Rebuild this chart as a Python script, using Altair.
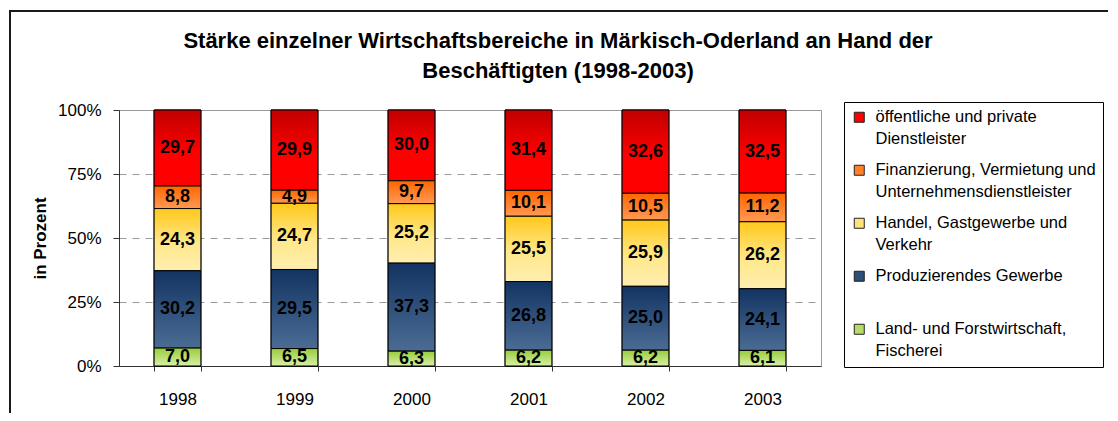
import altair as alt
import pandas as pd

years = ["1998", "1999", "2000", "2001", "2002", "2003"]
series = [
    "öffentliche und private|Dienstleister",
    "Finanzierung, Vermietung und|Unternehmensdienstleister",
    "Handel, Gastgewerbe und|Verkehr",
    "Produzierendes Gewerbe| ",
    "Land- und Forstwirtschaft,|Fischerei",
]
oeffentlich = [29.7, 29.9, 30.0, 31.4, 32.6, 32.5]
finanzierung = [8.8, 4.9, 9.7, 10.1, 10.5, 11.2]
handel = [24.3, 24.7, 25.2, 25.5, 25.9, 26.2]
produzierend = [30.2, 29.5, 37.3, 26.8, 25.0, 24.1]
land = [7.0, 6.5, 6.3, 6.2, 6.2, 6.1]
values = [oeffentlich, finanzierung, handel, produzierend, land]

legend_colors = ["#FF0000", "#FF7F2A", "#FFE27A", "#2E4E77", "#B5DC6A"]
gradients = [
    [("#C00000", 0.0), ("#FF0000", 0.55), ("#FF0000", 1.0)],
    [("#FF6600", 0.0), ("#FF9A55", 1.0)],
    [("#FFC81A", 0.0), ("#FFE88A", 0.55), ("#FFEEB0", 1.0)],
    [("#133462", 0.0), ("#4A6C94", 1.0)],
    [("#98CC3A", 0.0), ("#D8F0A8", 1.0)],
]

rows = []
for si, (name, vals) in enumerate(zip(series, values)):
    for y, v in zip(years, vals):
        rows.append({"year": y, "series": name, "value": v, "order": len(series) - si})
df = pd.DataFrame(rows)

FONT = "Liberation Sans"

base = alt.Chart(df).transform_stack(
    stack="value",
    groupby=["year"],
    as_=["y0", "y1"],
    offset="normalize",
    sort=[alt.SortField("order", order="ascending")],
)

x_enc = alt.X(
    "year:N",
    title=None,
    scale=alt.Scale(paddingInner=0.6, paddingOuter=0.3),
    axis=alt.Axis(
        labelAngle=0,
        tickBand="extent",
        tickSize=5,
        labelPadding=20,
        labelFontSize=17,
        domainColor="#333333",
        tickColor="#333333",
    ),
)
y_axis = alt.Axis(
    values=[0, 0.25, 0.5, 0.75, 1.0],
    format=".0%",
    title="in Prozent",
    grid=True,
    gridDash=[7, 6],
    gridColor="#9a9a9a",
    tickSize=6,
    labelPadding=12,
    labelFontSize=17,
    domainColor="#333333",
    tickColor="#333333",
    titleFontSize=17,
    titleFontWeight="bold",
    titlePadding=8,
)
y_scale = alt.Scale(domain=[0, 1])

solid = base.mark_bar(stroke="black", strokeWidth=1).encode(
    x=x_enc,
    y=alt.Y("y0:Q", scale=y_scale, axis=y_axis),
    y2="y1:Q",
    color=alt.Color(
        "series:N",
        scale=alt.Scale(domain=series, range=legend_colors),
        legend=alt.Legend(
            title=None,
            orient="none",
            legendX=725,
            legendY=-8,
            padding=7,
            strokeColor="#000000",
            labelExpr="split(datum.label, '|')",
            labelFontSize=16.5,
            labelFont=FONT,
            labelLimit=400,
            symbolType="square",
            symbolSize=100,
            symbolStrokeColor="#222222",
            symbolStrokeWidth=1,
            rowPadding=14,
            labelOffset=8,
        ),
    ),
)

layers = []
for name, grad in zip(series, gradients):
    g = alt.Gradient(
        gradient="linear",
        stops=[alt.GradientStop(color=c, offset=o) for c, o in grad],
        x1=0, x2=0, y1=0, y2=1,
    )
    layers.append(
        base.transform_filter(alt.datum.series == name)
        .mark_bar(color=g, stroke="black", strokeWidth=1)
        .encode(
            x=x_enc,
            y=alt.Y("y0:Q", scale=y_scale, axis=y_axis),
            y2="y1:Q",
        )
    )

labels = (
    base.transform_calculate(
        mid="(datum.y0 + datum.y1) / 2",
        label="replace(format(datum.value, '.1f'), '.', ',')",
    )
    .mark_text(fontSize=18, fontWeight="bold", font=FONT, color="black", baseline="middle")
    .encode(
        x=x_enc,
        y=alt.Y("mid:Q", scale=y_scale, axis=y_axis),
        text="label:N",
    )
)

frame = (
    alt.Chart(pd.DataFrame({"f": [0]}))
    .mark_rect(fillOpacity=0, stroke="#1a1a1a", strokeWidth=2)
    .encode(
        x=alt.value(-109),
        x2=alt.value(1400),
        y=alt.value(-99),
        y2=alt.value(700),
    )
)

chart = (
    alt.layer(frame, solid, *layers, labels)
    .properties(
        width=702,
        height=256,
        autosize=alt.AutoSizeParams(type="none"),
        padding={"left": 111, "top": 102, "right": 287, "bottom": 47},
        title=alt.TitleParams(
            text=[
                "Stärke einzelner Wirtschaftsbereiche in Märkisch-Oderland an Hand der",
                "Beschäftigten (1998-2003)",
            ],
            fontSize=22,
            font=FONT,
            fontWeight="bold",
            lineHeight=30,
            anchor="middle",
            dx=88,
            offset=-73,
            color="black",
        ),
    )
    .configure(style={"guide-label": {"lineHeight": 22}})
    .configure_view(stroke="#9a9a9a", strokeWidth=1)
    .configure_axis(labelFont=FONT, titleFont=FONT, labelColor="black", titleColor="black")
)

chart.save("out.html", embed_options={"renderer": "svg", "actions": False})
